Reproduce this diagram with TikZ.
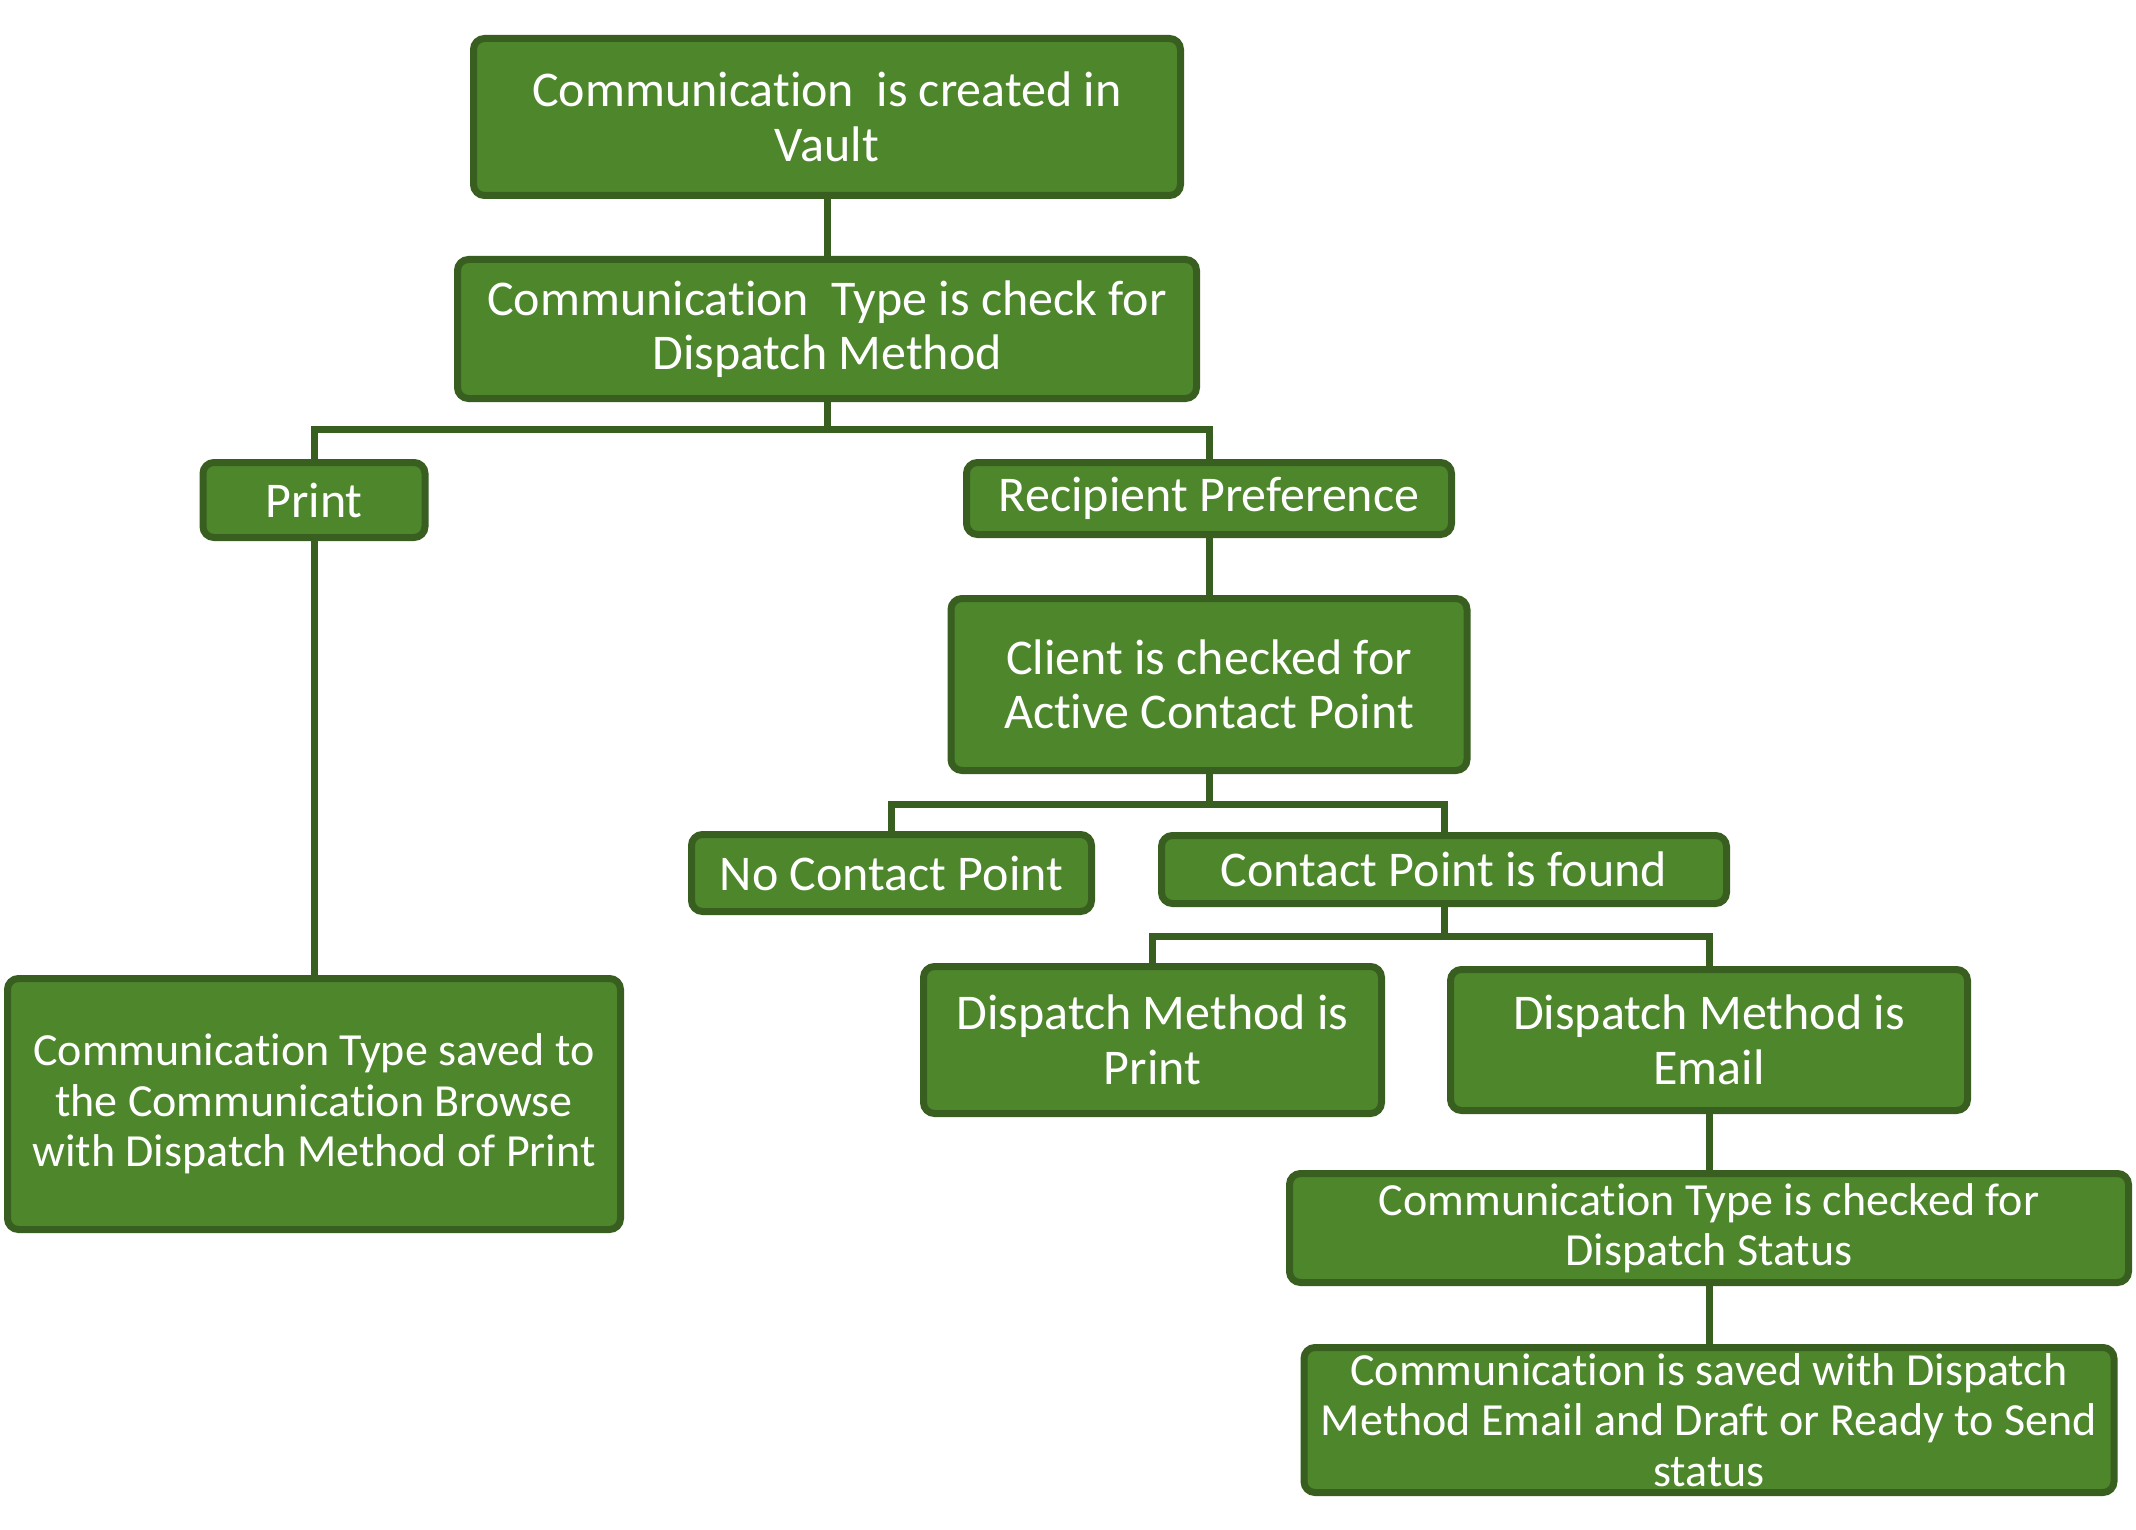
\documentclass[tikz,border=0pt]{standalone}
\usepackage{fontspec}
\setmainfont[Ligatures={NoCommon}]{Carlito}
\definecolor{boxfill}{HTML}{4E862C}
\definecolor{boxedge}{HTML}{385F20}
\begin{document}
\begin{tikzpicture}[x=1pt,y=-1pt,
  box/.style={draw=boxedge, fill=boxfill, line width=7pt, rounded corners=11pt,
    inner sep=0pt, align=center, text=white,
    font=\fontsize{50}{54.5}\selectfont},
  boxs/.style={box, font=\fontsize{46}{50.4}\selectfont},
  link/.style={draw=boxedge, line width=7pt}]
\useasboundingbox[fill=white] (0,0) rectangle (2136,1530);

\node[box, minimum width=707pt, minimum height=157pt] (top) at (827,117) {Communication\ \ is created in\\Vault};
\node[box, minimum width=739pt, minimum height=139pt] (type) at (827,329) {Communication\ \ Type is check for\\Dispatch Method};
\node[box, minimum width=222pt, minimum height=75pt] (print) at (314,500) {Print};
\node[box, minimum width=485pt, minimum height=72pt] (recip) at (1209,498.5) {Recipient Preference};
\node[box, minimum width=516pt, minimum height=172pt] (client) at (1209,684.5) {Client is checked for\\Active Contact Point};
\node[box, minimum width=400pt, minimum height=77pt] (nocp) at (891.5,873) {No Contact Point};
\node[box, minimum width=565pt, minimum height=68pt] (cpf) at (1444,869.5) {Contact Point is found};
\node[box, minimum width=458pt, minimum height=147pt] (dmp) at (1152.5,1040) {Dispatch Method is\\Print};
\node[box, minimum width=517pt, minimum height=141pt] (dme) at (1709,1040) {Dispatch Method is\\Email};
\node[boxs, minimum width=839pt, minimum height=109pt] (ctc) at (1709,1228) {Communication Type is checked for\\Dispatch Status};
\node[boxs, minimum width=810pt, minimum height=145pt] (cs) at (1709,1420) {Communication is saved with Dispatch\\Method Email and Draft or Ready to Send\\status};
\node[boxs, minimum width=613pt, minimum height=251pt] (lb) at (314,1104) {Communication Type saved to\\the Communication Browse\\with Dispatch Method of Print};

\coordinate (b1) at (827,429);
\coordinate (b2) at (1209,804);
\coordinate (b3) at (1444,936);

\draw[link] (top.south) -- (type.north);
\draw[link] (type.south) -- (b1);
\draw[link] (print.north) |- (b1) -| (recip.north);
\draw[link] (print.south) -- (lb.north);
\draw[link] (recip.south) -- (client.north);
\draw[link] (client.south) -- (b2);
\draw[link] (nocp.north) |- (b2) -| (cpf.north);
\draw[link] (cpf.south) -- (b3);
\draw[link] (dmp.north) |- (b3) -| (dme.north);
\draw[link] (dme.south) -- (ctc.north);
\draw[link] (ctc.south) -- (cs.north);
\end{tikzpicture}
\end{document}
